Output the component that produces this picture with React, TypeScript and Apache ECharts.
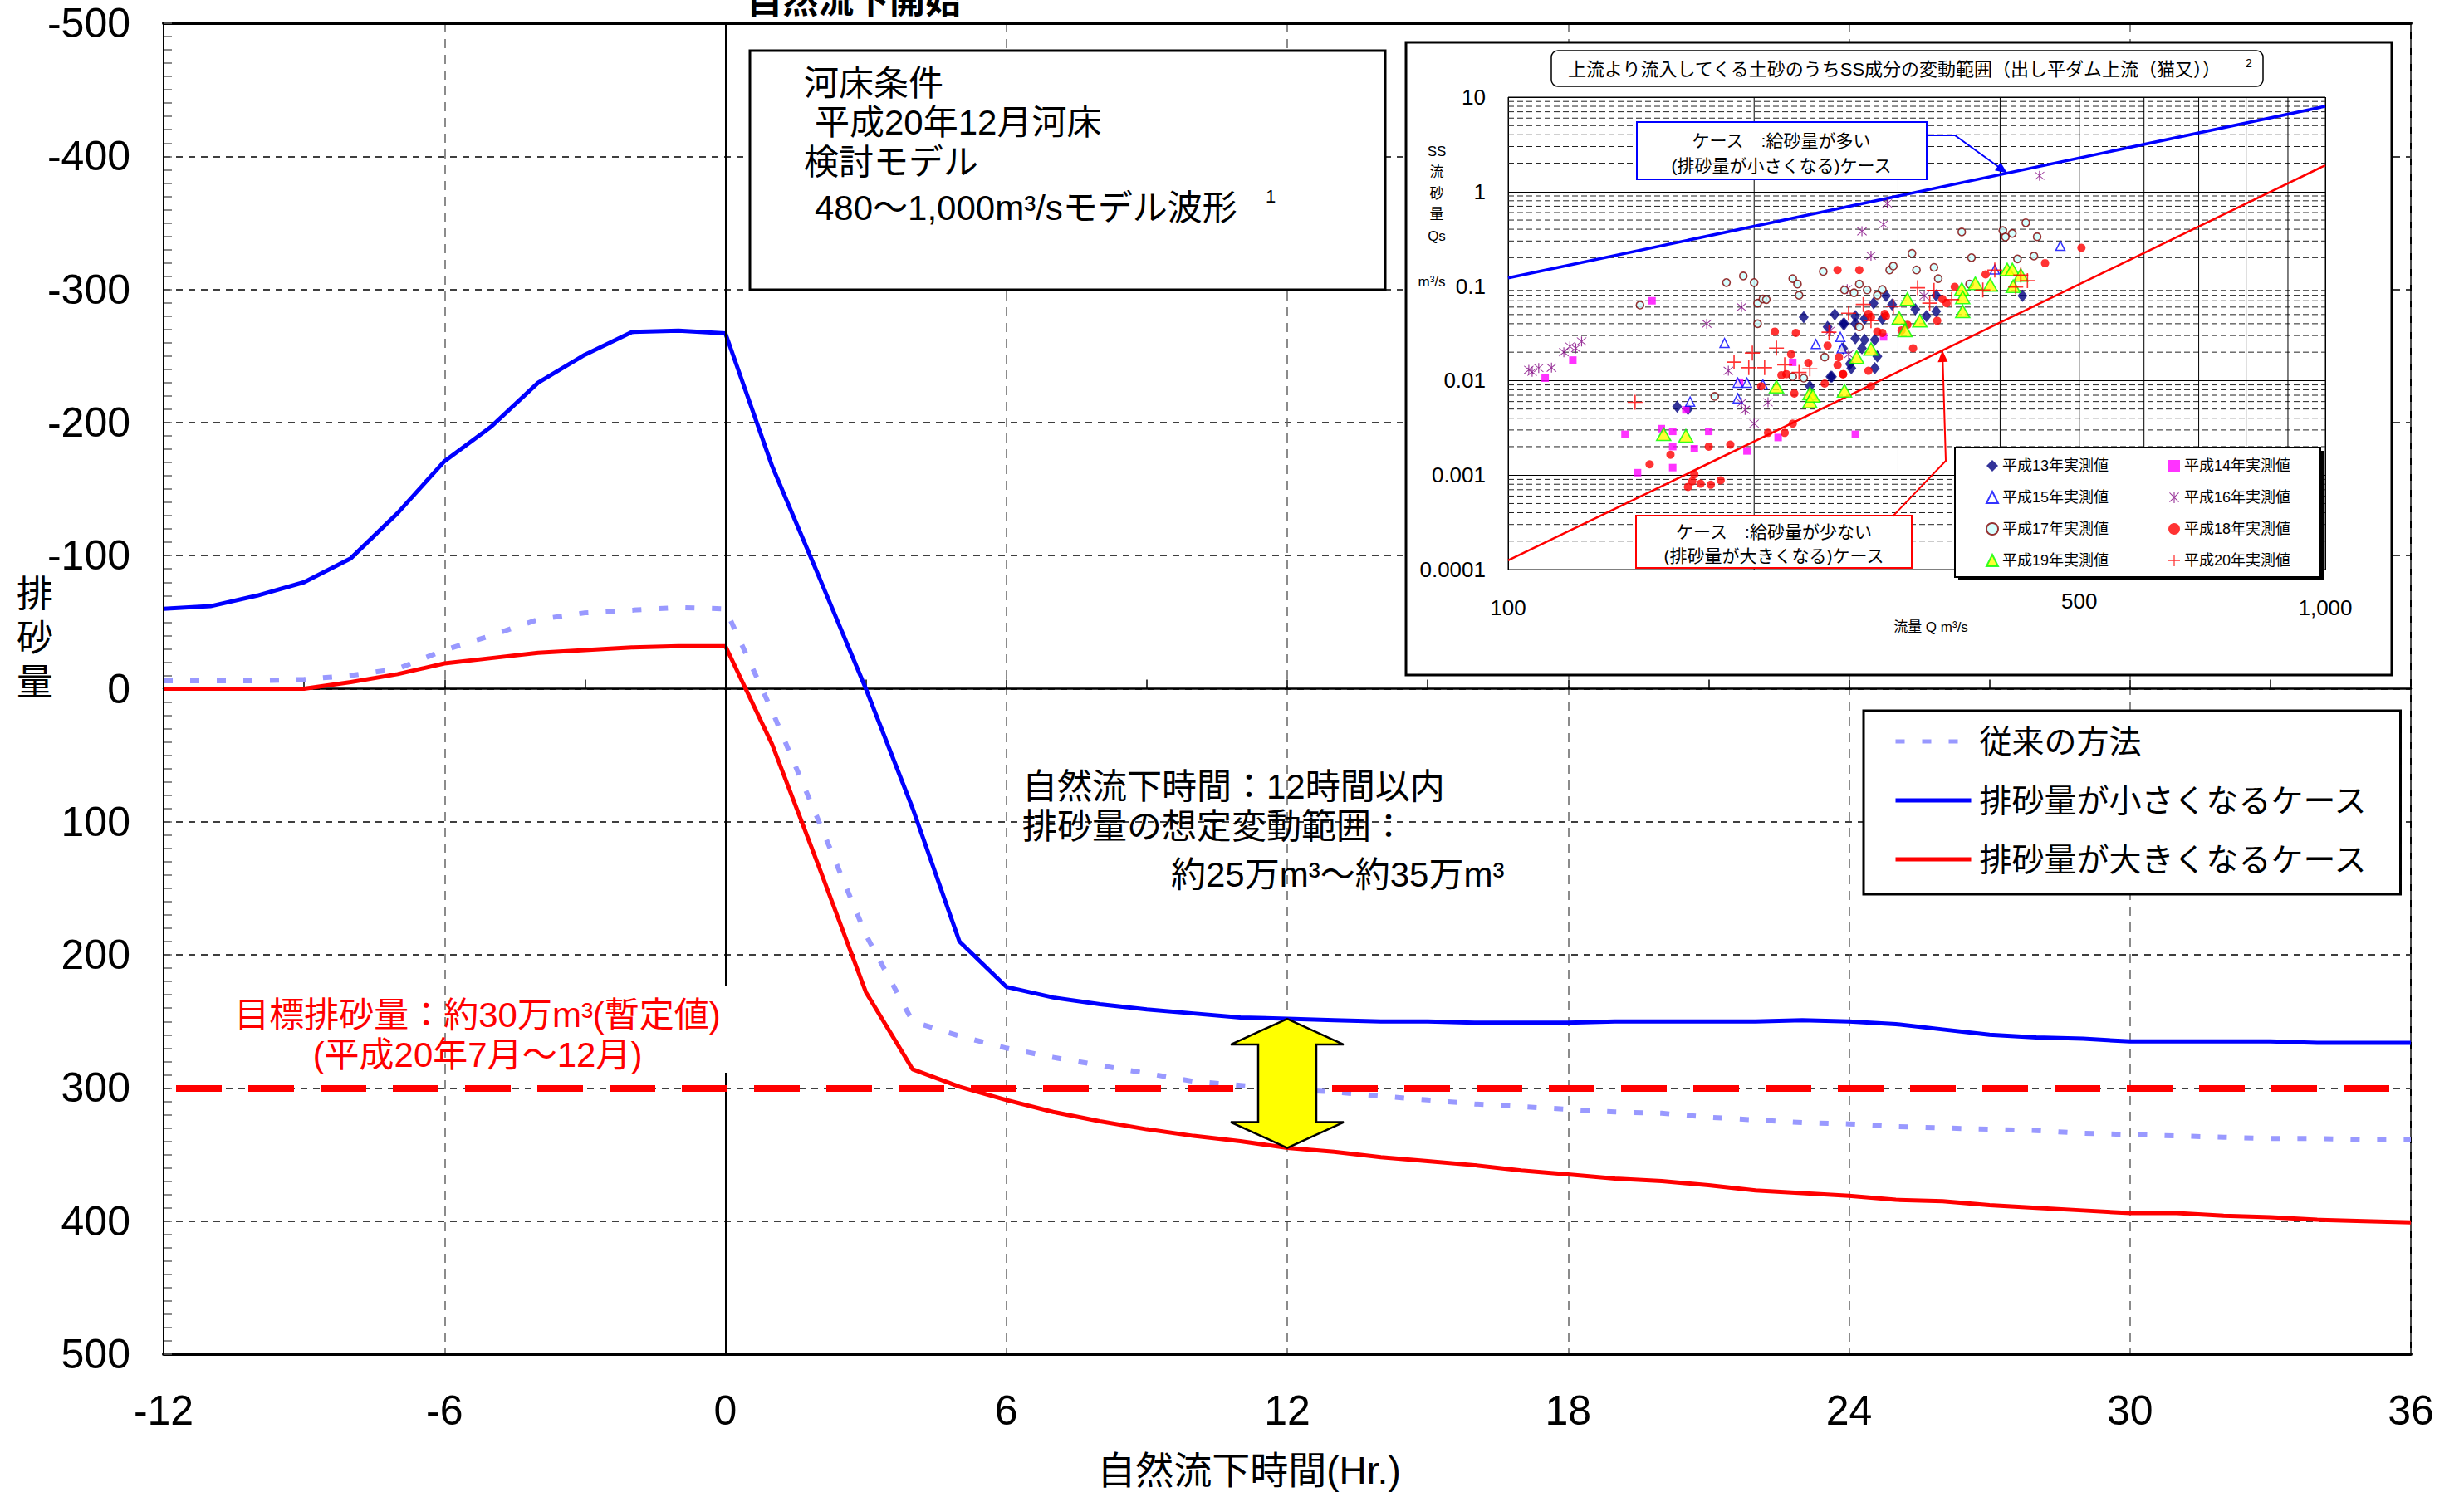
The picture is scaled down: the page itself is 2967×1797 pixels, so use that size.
import React, { useEffect, useRef } from "react";
import * as echarts from "echarts";

const FONT_EN = '"Liberation Sans", Arial, "Noto Sans CJK JP", sans-serif';
const FONT_JP = '"Liberation Sans", "Noto Sans CJK JP", sans-serif';

// ---------------- main chart data ----------------
const hours = [-12, -11, -10, -9, -8, -7, -6, -5, -4, -3, -2, -1, 0, 1, 2, 3, 4, 5, 6, 7, 8, 9, 10, 11, 12, 13, 14, 15, 16, 17, 18, 19, 20, 21, 22, 23, 24, 25, 26, 27, 28, 29, 30, 31, 32, 33, 34, 35, 36];
const conventional = [-6, -6, -6, -7, -10, -15, -29, -40, -52, -57, -59, -61, -60, 17, 100, 185, 250, 261, 270, 277, 283, 289, 295, 298, 301, 303, 306, 309, 312, 314, 316, 318, 319, 322, 324, 326, 327, 329, 330, 331, 332, 334, 335, 336, 337, 338, 338, 339, 339];
const smallCase = [-60, -62, -70, -80, -98, -132, -171, -197, -230, -251, -268, -269, -267, -167, -84, 0, 90, 190, 224, 232, 237, 241, 244, 247, 248, 249, 250, 250, 251, 251, 251, 250, 250, 250, 250, 249, 250, 252, 256, 260, 262, 263, 265, 265, 265, 265, 266, 266, 266];
const largeCase = [0, 0, 0, 0, -5, -11, -19, -23, -27, -29, -31, -32, -32, 42, 134, 228, 286, 299, 309, 318, 325, 331, 336, 340, 345, 348, 352, 355, 358, 362, 365, 368, 370, 373, 377, 379, 381, 384, 385, 388, 390, 392, 394, 394, 396, 397, 399, 400, 401];
const targetVolume = 300;
const highlightHour = 12;
const seriesNames = ["従来の方法", "排砂量が小さくなるケース", "排砂量が大きくなるケース"];

// ---------------- inset chart data ----------------
const caseMoreSupply: number[][] = [[100, 0.122], [1000, 8.0]];
const caseLessSupply: number[][] = [[100, 0.000125], [1000, 1.9]];
const calloutQMore = 408;
const calloutQLess = 340;

const h13 = [[230, 0.047], [251, 0.05], [258, 0.04], [246, 0.037], [257, 0.022], [249, 0.011], [234, 0.0087], [161, 0.0053], [166, 0.005], [262, 0.015], [257, 0.04], [266, 0.048], [273, 0.045], [266, 0.028], [273, 0.027], [281, 0.027], [271, 0.022], [283, 0.018], [281, 0.0135], [263, 0.0135], [248, 0.011], [280, 0.066], [290, 0.079], [295, 0.064], [287, 0.045], [315, 0.057], [325, 0.048], [334, 0.054], [334, 0.08], [426, 0.079], [266, 0.04]];
const h14 = [[150, 0.07], [120, 0.0165], [111, 0.0106], [139, 0.0027], [154, 0.0031], [159, 0.0029], [159, 0.002], [169, 0.0019], [176, 0.0029], [159, 0.0012], [144, 0.00106], [165, 0.0049], [192, 0.0096], [196, 0.0018], [214, 0.0025], [223, 0.0156], [288, 0.029], [266, 0.0027]];
const h15 = [[184, 0.025], [167, 0.006], [191, 0.0095], [196, 0.0095], [191, 0.0065], [205, 0.0091], [238, 0.0244], [255, 0.029], [256, 0.022], [394, 0.15], [474, 0.267]];
const h16 = [[106, 0.013], [107, 0.0124], [109, 0.0136], [113, 0.0137], [117, 0.02], [119, 0.023], [121, 0.022], [123, 0.026], [175, 0.04], [193, 0.06], [186, 0.0127], [193, 0.0058], [195, 0.0049], [200, 0.0035], [208, 0.0059], [291, 0.75], [288, 0.45], [271, 0.38], [278, 0.21], [447, 1.47], [323, 0.079], [261, 0.019], [248, 0.034], [260, 0.093]];
const h17 = [[145, 0.063], [185, 0.109], [194, 0.128], [200, 0.109], [202, 0.066], [205, 0.073], [207, 0.072], [202, 0.04], [179, 0.0068], [223, 0.12], [226, 0.105], [227, 0.08], [243, 0.143], [244, 0.0177], [223, 0.011], [230, 0.0106], [258, 0.091], [265, 0.085], [269, 0.105], [275, 0.091], [287, 0.092], [283, 0.08], [293, 0.148], [296, 0.163], [312, 0.222], [316, 0.148], [332, 0.158], [336, 0.12], [359, 0.374], [369, 0.2], [403, 0.387], [406, 0.331], [414, 0.361], [430, 0.468], [444, 0.333], [440, 0.208], [420, 0.194], [269, 0.037], [367, 0.105]];
const h18 = [[253, 0.148], [212, 0.033], [225, 0.032], [222, 0.019], [233, 0.0154], [246, 0.0235], [254, 0.0177], [253, 0.0146], [257, 0.0117], [216, 0.0114], [219, 0.0117], [204, 0.0087], [224, 0.0073], [244, 0.0093], [208, 0.0028], [218, 0.0028], [223, 0.0035], [176, 0.002], [187, 0.0021], [158, 0.00164], [149, 0.0013], [169, 0.00102], [166, 0.00075], [168, 0.00086], [172, 0.00081], [177, 0.00079], [182, 0.00088], [269, 0.148], [276, 0.051], [278, 0.047], [289, 0.051], [290, 0.048], [283, 0.033], [287, 0.032], [308, 0.039], [313, 0.022], [335, 0.043], [340, 0.073], [344, 0.066], [352, 0.098], [384, 0.133], [454, 0.175], [503, 0.254], [276, 0.0127], [257, 0.0117], [278, 0.0087], [303, 0.034]];
const h19 = [[155, 0.0027], [165, 0.0026], [213, 0.0086], [234, 0.0073], [234, 0.006], [236, 0.0069], [258, 0.0078], [267, 0.0177], [278, 0.0216], [301, 0.046], [306, 0.034], [308, 0.073], [319, 0.043], [359, 0.093], [360, 0.076], [360, 0.054], [373, 0.107], [389, 0.103], [408, 0.15], [414, 0.15], [424, 0.131], [415, 0.0996]];
const h20 = [[143, 0.0059], [189, 0.0157], [197, 0.0137], [199, 0.0196], [206, 0.0137], [213, 0.0221], [218, 0.0147], [227, 0.0122], [234, 0.0133], [247, 0.0325], [261, 0.0516], [272, 0.064], [278, 0.043], [296, 0.061], [317, 0.096], [332, 0.09], [328, 0.066], [349, 0.072], [381, 0.091], [394, 0.148], [418, 0.098], [424, 0.131], [432, 0.114]];

const insetQRange = [100, 1000];
const insetQsRange = [0.0001, 10];
const insetDecades = [0.0001, 0.001, 0.01, 0.1, 1];
const insetMultipliers = [2, 3, 4, 5, 6, 7, 8, 9];
const insetMinorQs: number[] = [];
insetDecades.forEach((d) => insetMultipliers.forEach((m) => insetMinorQs.push(+(d * m).toPrecision(3))));
const insetMinorQ = [200, 300, 400, 500, 600, 700, 800, 900];
const insetExtraLabel = 500;

const PLUS = "path://M9.1,0H10.9V9.1H20V10.9H10.9V20H9.1V10.9H0V9.1H9.1Z";
const ASTER = "path://M9.2,0H10.8V20H9.2Z M1.6,2.6L2.6,1.6L18.4,17.4L17.4,18.4Z M18.4,2.6L2.6,18.4L1.6,17.4L17.4,1.6Z";

const logFmt = (v: number) => {
  const p = Math.round(Math.log10(v));
  return p >= 0 ? Math.pow(10, p).toLocaleString("en-US") : Math.pow(10, p).toFixed(-p);
};

const qsOnLine = (line: number[][], q: number) => {
  const [a, b] = line;
  const t = (Math.log10(q) - Math.log10(a[0])) / (Math.log10(b[0]) - Math.log10(a[0]));
  return Math.pow(10, Math.log10(a[1]) + t * (Math.log10(b[1]) - Math.log10(a[1])));
};

const head = (p: number[], t: number[], L: number, w: number) => {
  const dx = t[0] - p[0], dy = t[1] - p[1];
  const len = Math.hypot(dx, dy);
  const ux = dx / len, uy = dy / len;
  const bx = t[0] - ux * L, by = t[1] - uy * L;
  return [[t[0], t[1]], [bx - uy * w, by + ux * w], [bx + uy * w, by - ux * w]];
};

const T = (text: string, x: number, y: number, size: number, o: any = {}) => ({
  type: "text",
  x,
  y,
  z: o.z ?? 13,
  silent: true,
  style: {
    text,
    fontSize: size,
    fontFamily: o.font ?? FONT_JP,
    fontWeight: o.weight ?? "normal",
    fill: o.color ?? "#000",
    align: o.align ?? "left",
    verticalAlign: "middle",
    textAlign: o.align ?? "left",
    textVerticalAlign: "middle",
    lineHeight: o.lh,
  },
});

const pair = (vals: number[]) => hours.map((h, i) => [h, vals[i]]);

export default function App() {
  const ref = useRef<HTMLDivElement>(null);

  useEffect(() => {
    document.body.style.margin = "0";
    const chart = echarts.init(ref.current!, null, { renderer: "svg", width: 2967, height: 1797 });

    const scatterBase = { type: "scatter", xAxisIndex: 3, yAxisIndex: 1, z: 9, silent: true };

    const option: any = {
      animation: false,
      backgroundColor: "#fff",
      grid: [
        { left: 197, top: 28, width: 2706, height: 1603, show: true, borderColor: "#000", borderWidth: 2, backgroundColor: "transparent", containLabel: false, outerBoundsMode: "none" },
        { left: 1816, top: 117, width: 984, height: 569, show: true, borderColor: "#000", borderWidth: 1, backgroundColor: "transparent", z: 6, containLabel: false, outerBoundsMode: "none" },
      ],
      legend: [
        {
          data: seriesNames,
          orient: "vertical",
          left: 2244,
          top: 856,
          padding: [17, 39, 22, 36],
          itemWidth: 91,
          itemHeight: 14,
          itemGap: 31,
          backgroundColor: "#fff",
          borderColor: "#000",
          borderWidth: 3,
          selectedMode: false,
          z: 12,
          itemStyle: { opacity: 0 },
          lineStyle: { width: 5 },
          textStyle: { fontSize: 39, lineHeight: 40, fontFamily: FONT_JP, color: "#000", padding: [0, 0, 0, 5] },
        },
        {
          data: ["平成13年実測値", "平成15年実測値", "平成17年実測値", "平成19年実測値"],
          orient: "vertical",
          left: 2391,
          top: 552,
          padding: 0,
          itemWidth: 14,
          itemHeight: 14,
          itemGap: 20,
          selectedMode: false,
          z: 12,
          textStyle: { fontSize: 18, lineHeight: 18, fontFamily: FONT_JP, color: "#000" },
        },
        {
          data: ["平成14年実測値", "平成16年実測値", "平成18年実測値", "平成20年実測値"],
          orient: "vertical",
          left: 2611,
          top: 552,
          padding: 0,
          itemWidth: 14,
          itemHeight: 14,
          itemGap: 20,
          selectedMode: false,
          z: 12,
          textStyle: { fontSize: 18, lineHeight: 18, fontFamily: FONT_JP, color: "#000" },
        },
      ],
      xAxis: [
        {
          gridIndex: 0,
          type: "value",
          position: "bottom",
          min: -12,
          max: 36,
          interval: 6,
          axisLine: { onZero: false, lineStyle: { color: "#000", width: 4 } },
          axisTick: { show: false },
          axisLabel: { fontSize: 50, color: "#000", margin: 43, fontFamily: FONT_EN },
          splitLine: { show: true, lineStyle: { color: "#666", type: [11, 8], width: 1.5 } },
        },
        {
          gridIndex: 0,
          type: "value",
          position: "bottom",
          min: -12,
          max: 36,
          interval: 3,
          axisLine: { onZero: true, lineStyle: { color: "#000", width: 2.5 } },
          axisTick: { show: true, inside: true, length: 11, lineStyle: { color: "#000", width: 1.5 } },
          axisLabel: { show: false },
          splitLine: { show: false },
        },
        {
          gridIndex: 0,
          type: "value",
          position: "top",
          min: -12,
          max: 36,
          axisLine: { onZero: false, lineStyle: { color: "#000", width: 4 } },
          axisTick: { show: false },
          axisLabel: { show: false },
          splitLine: { show: false },
        },
        {
          gridIndex: 1,
          type: "log",
          logBase: 10,
          min: insetQRange[0],
          max: insetQRange[1],
          z: 6,
          axisLine: { show: false, onZero: false },
          axisTick: { show: false },
          axisLabel: { fontSize: 26, color: "#000", margin: 33, fontFamily: FONT_EN, formatter: logFmt },
          splitLine: { show: true, lineStyle: { color: "#000", width: 1 } },
        },
      ],
      yAxis: [
        {
          gridIndex: 0,
          type: "value",
          inverse: true,
          min: -500,
          max: 500,
          interval: 100,
          axisLine: { show: true, onZero: false, lineStyle: { color: "#000", width: 2 } },
          axisTick: { show: true, inside: true, length: 10, lineStyle: { color: "#666", width: 1.5 } },
          minorTick: { show: true, splitNumber: 10, length: 10, lineStyle: { color: "#666", width: 1.5 } },
          axisLabel: { fontSize: 50, color: "#000", margin: 40, fontFamily: FONT_EN },
          splitLine: { show: true, lineStyle: { color: "#000", type: [8, 7], width: 1.5 } },
        },
        {
          gridIndex: 1,
          type: "log",
          logBase: 10,
          min: insetQsRange[0],
          max: insetQsRange[1],
          z: 6,
          axisLine: { show: false, onZero: false },
          axisTick: { show: false },
          axisLabel: { fontSize: 26, color: "#000", margin: 27, fontFamily: FONT_EN, formatter: logFmt },
          splitLine: { show: true, lineStyle: { color: "#000", width: 1 } },
        },
      ],
      series: [
        {
          name: "zeroTime",
          type: "line",
          xAxisIndex: 0,
          yAxisIndex: 0,
          data: [],
          z: 1,
          silent: true,
          markLine: {
            silent: true,
            symbol: ["none", "none"],
            label: { show: false },
            emphasis: { disabled: true },
            lineStyle: { color: "#000", width: 2, type: "solid" },
            data: [{ xAxis: 0 }],
          },
        },
        {
          name: seriesNames[0],
          type: "line",
          xAxisIndex: 0,
          yAxisIndex: 0,
          data: pair(conventional),
          symbol: "none",
          z: 3,
          silent: true,
          itemStyle: { color: "#9999ff" },
          lineStyle: { color: "#9999ff", width: 6, type: [11, 21] },
        },
        {
          name: seriesNames[1],
          type: "line",
          xAxisIndex: 0,
          yAxisIndex: 0,
          data: pair(smallCase),
          symbol: "none",
          z: 4,
          silent: true,
          itemStyle: { color: "#0000ff" },
          lineStyle: { color: "#0000ff", width: 5 },
        },
        {
          name: seriesNames[2],
          type: "line",
          xAxisIndex: 0,
          yAxisIndex: 0,
          data: pair(largeCase),
          symbol: "none",
          z: 4,
          silent: true,
          itemStyle: { color: "#ff0000" },
          lineStyle: { color: "#ff0000", width: 5 },
        },
        {
          name: "target",
          type: "line",
          xAxisIndex: 0,
          yAxisIndex: 0,
          data: [],
          z: 5,
          silent: true,
          markLine: {
            silent: true,
            symbol: ["none", "none"],
            label: { show: false },
            emphasis: { disabled: true },
            lineStyle: { color: "#ff0000", width: 8, type: [55, 32], dashOffset: 72 },
            data: [{ yAxis: targetVolume }],
          },
        },
        // inset minor grid lines (drawn through the log axes)
        {
          name: "minorQs",
          type: "custom",
          xAxisIndex: 3,
          yAxisIndex: 1,
          z: 7,
          silent: true,
          encode: { x: 0, y: 1 },
          data: insetMinorQs.map((v) => [insetQRange[0], v]),
          renderItem: (_p: any, api: any) => {
            const v = api.value(1);
            const a = api.coord([insetQRange[0], v]);
            const b = api.coord([insetQRange[1], v]);
            return { type: "line", shape: { x1: a[0], y1: a[1], x2: b[0], y2: b[1] }, style: { stroke: "#222", lineWidth: 1, lineDash: [7, 4] } };
          },
        },
        {
          name: "minorQ",
          type: "custom",
          xAxisIndex: 3,
          yAxisIndex: 1,
          z: 7,
          silent: true,
          encode: { x: 0, y: 1 },
          data: insetMinorQ.map((q) => [q, insetQsRange[0]]),
          renderItem: (_p: any, api: any) => {
            const q = api.value(0);
            const a = api.coord([q, insetQsRange[0]]);
            const b = api.coord([q, insetQsRange[1]]);
            return { type: "line", shape: { x1: a[0], y1: a[1], x2: b[0], y2: b[1] }, style: { stroke: "#000", lineWidth: 1 } };
          },
        },
        {
          name: "給砂量が多い",
          type: "line",
          xAxisIndex: 3,
          yAxisIndex: 1,
          data: caseMoreSupply,
          symbol: "none",
          z: 8,
          silent: true,
          lineStyle: { color: "#0000ff", width: 3.5 },
        },
        {
          name: "給砂量が少ない",
          type: "line",
          xAxisIndex: 3,
          yAxisIndex: 1,
          data: caseLessSupply,
          symbol: "none",
          z: 8,
          silent: true,
          lineStyle: { color: "#ff0000", width: 2.5 },
        },
        { ...scatterBase, name: "平成13年実測値", data: h13, symbol: "diamond", symbolSize: [12, 15], itemStyle: { color: "#000080" } },
        { ...scatterBase, name: "平成14年実測値", data: h14, symbol: "rect", symbolSize: 9, itemStyle: { color: "#ff00ff" } },
        { ...scatterBase, name: "平成15年実測値", data: h15, symbol: "triangle", symbolSize: [11, 11], itemStyle: { color: "#ffffff", borderColor: "#0000ff", borderWidth: 1.5 } },
        { ...scatterBase, name: "平成16年実測値", data: h16, symbol: ASTER, symbolSize: 12, itemStyle: { color: "#800080" } },
        { ...scatterBase, name: "平成17年実測値", data: h17, symbol: "circle", symbolSize: 9, itemStyle: { color: "#ccffff", borderColor: "#800000", borderWidth: 1.6 } },
        { ...scatterBase, name: "平成18年実測値", data: h18, symbol: "circle", symbolSize: 10, itemStyle: { color: "#ff0000" } },
        { ...scatterBase, name: "平成19年実測値", data: h19, symbol: "triangle", symbolSize: [17, 15], itemStyle: { color: "#ffff00", borderColor: "#00ff00", borderWidth: 1.6 } },
        { ...scatterBase, name: "平成20年実測値", data: h20, symbol: PLUS, symbolSize: 18, itemStyle: { color: "#ff0000" } },
      ],
    };

    chart.setOption(option);

    // annotation geometry derived from the axes
    const hi = hours.indexOf(highlightHour);
    const pTop = chart.convertToPixel({ xAxisIndex: 0, yAxisIndex: 0 }, [highlightHour, smallCase[hi]]) as number[];
    const pBot = chart.convertToPixel({ xAxisIndex: 0, yAxisIndex: 0 }, [highlightHour, largeCase[hi]]) as number[];
    const cx = pTop[0];
    const yT = pTop[1], yB = pBot[1];
    const hw = 68, sw = 35, hl = 31;
    const dbl = [
      [cx, yT], [cx + hw, yT + hl], [cx + sw, yT + hl], [cx + sw, yB - hl], [cx + hw, yB - hl],
      [cx, yB], [cx - hw, yB - hl], [cx - sw, yB - hl], [cx - sw, yT + hl], [cx - hw, yT + hl],
    ];

    const tipMore = chart.convertToPixel({ xAxisIndex: 3, yAxisIndex: 1 }, [calloutQMore, qsOnLine(caseMoreSupply, calloutQMore)]) as number[];
    const tipLess = chart.convertToPixel({ xAxisIndex: 3, yAxisIndex: 1 }, [calloutQLess, qsOnLine(caseLessSupply, calloutQLess)]) as number[];
    const x500 = (chart.convertToPixel({ xAxisIndex: 3, yAxisIndex: 1 }, [insetExtraLabel, 1]) as number[])[0];

    const blueBend = [2354, 163];
    const redBend = [2343, 555];

    const elements: any[] = [
      T("自然流下開始", 1028, 1, 43, { align: "center", weight: "bold" }),
      T("排\n砂\n量", 42, 768, 44, { align: "center", lh: 53 }),
      T("自然流下時間(Hr.)", 1504, 1771, 46, { align: "center" }),

      { type: "rect", z: 5, silent: true, shape: { x: 903, y: 61, width: 765, height: 288 }, style: { fill: "#fff", stroke: "#000", lineWidth: 3 } },
      T("河床条件", 968, 100, 42),
      T("平成20年12月河床", 981, 147, 42),
      T("検討モデル", 968, 195, 42),
      T("480～1,000m³/sモデル波形", 981, 250, 42),
      T("1", 1524, 236, 22),

      T("自然流下時間：12時間以内", 1231, 947, 42),
      T("排砂量の想定変動範囲：", 1231, 995, 42),
      T("約25万m³～約35万m³", 1410, 1053, 42),

      { type: "rect", z: 5, silent: true, shape: { x: 545, y: 1188, width: 335, height: 104 }, style: { fill: "#fff" } },
      T("目標排砂量：約30万m³(暫定値)", 575, 1222, 42, { align: "center", color: "#ff0000" }),
      T("(平成20年7月～12月)", 575, 1270, 42, { align: "center", color: "#ff0000" }),

      // inset frame
      { type: "rect", z: 5, silent: true, shape: { x: 1693, y: 51, width: 1187, height: 762 }, style: { fill: "#fff", stroke: "#000", lineWidth: 3 } },
      { type: "rect", z: 10, silent: true, shape: { x: 1868, y: 61, width: 857, height: 43, r: 8 }, style: { fill: "#fff", stroke: "#000", lineWidth: 1.5 } },
      T("上流より流入してくる土砂のうちSS成分の変動範囲（出し平ダム上流（猫又））", 2281, 83, 22, { align: "center" }),
      T("2", 2708, 76, 14, { align: "center" }),
      T("SS\n流\n砂\n量\nQs", 1730, 233, 17, { align: "center", lh: 25.5 }),
      T("m³/s", 1724, 339, 17, { align: "center" }),
      T("流量 Q m³/s", 2325, 755, 17, { align: "center" }),
      T(String(insetExtraLabel), x500, 724, 26, { align: "center", font: FONT_EN }),

      // callouts
      { type: "rect", z: 10, silent: true, shape: { x: 1971, y: 147, width: 349, height: 69 }, style: { fill: "#fff", stroke: "#0000ff", lineWidth: 2 } },
      T("ケース　:給砂量が多い", 2145, 169, 21, { align: "center" }),
      T("(排砂量が小さくなる)ケース", 2145, 199, 21, { align: "center" }),
      { type: "rect", z: 10, silent: true, shape: { x: 1970, y: 621, width: 332, height: 63 }, style: { fill: "#fff", stroke: "#ff0000", lineWidth: 2 } },
      T("ケース　:給砂量が少ない", 2136, 640, 21, { align: "center" }),
      T("(排砂量が大きくなる)ケース", 2136, 669, 21, { align: "center" }),
      { type: "polyline", z: 11, silent: true, shape: { points: [[2320, 163], blueBend, tipMore] }, style: { stroke: "#0000ff", lineWidth: 2, fill: null } },
      { type: "polygon", z: 11, silent: true, shape: { points: head(blueBend, tipMore, 14, 6) }, style: { fill: "#0000ff" } },
      { type: "polyline", z: 11, silent: true, shape: { points: [[2279, 622], redBend, tipLess] }, style: { stroke: "#ff0000", lineWidth: 2, fill: null } },
      { type: "polygon", z: 11, silent: true, shape: { points: head(redBend, tipLess, 14, 6) }, style: { fill: "#ff0000" } },

      // inset legend box
      { type: "rect", z: 10, silent: true, shape: { x: 2358, y: 543, width: 440, height: 156 }, style: { fill: "#000" } },
      { type: "rect", z: 11, silent: true, shape: { x: 2354, y: 539, width: 440, height: 156 }, style: { fill: "#fff", stroke: "#000", lineWidth: 2 } },

      // range arrow
      { type: "polygon", z: 12, silent: true, shape: { points: dbl }, style: { fill: "#ffff00", stroke: "#000", lineWidth: 2.5 } },
    ];

    chart.setOption({ graphic: { elements } });

    return () => chart.dispose();
  }, []);

  return <div ref={ref} style={{ position: "absolute", left: 0, top: 0, width: 2967, height: 1797, background: "#fff" }} />;
}
